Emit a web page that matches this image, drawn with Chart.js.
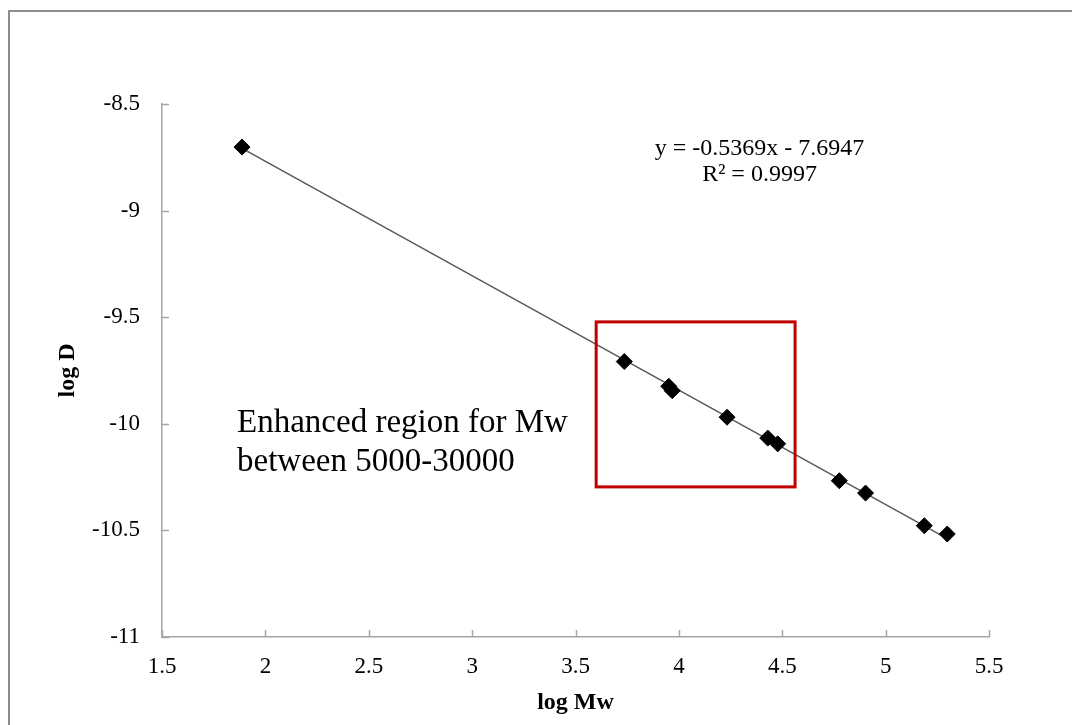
<!DOCTYPE html>
<html>
<head>
<meta charset="utf-8">
<script src="https://cdn.jsdelivr.net/npm/chart.js@4.4.1/dist/chart.umd.min.js"></script>
<style>
    html, body { margin: 0; padding: 0; background: #ffffff; }
    #wrap { width: 1072px; height: 725px; }
</style>
</head>
<body>
<div id="wrap"><canvas id="diffChart" width="1072" height="725"></canvas></div>
<script>
// -------- Data --------
const logMw = [1.887, 3.736, 3.951, 3.968, 4.233, 4.430, 4.478, 4.776, 4.903, 5.187, 5.298];
const logD = [-8.702, -9.708, -9.824, -9.845, -9.969, -10.067, -10.094, -10.267, -10.325, -10.478, -10.517];

// trendline end points (y = -0.5369x - 7.6947)
const trendX = [1.887, 5.298];
const trendY = [-8.708, -10.539];

const xTicks = [1.5, 2, 2.5, 3, 3.5, 4, 4.5, 5, 5.5];
const yTicks = [-8.5, -9, -9.5, -10, -10.5, -11];

const equationLines = ["y = -0.5369x - 7.6947", "R\u00b2 = 0.9997"];
const regionLines = ["Enhanced region for Mw", "between 5000-30000"];

// enhanced region box, in axis units
const regionBox = { xMin: 3.6, xMax: 4.562, yMin: -10.296, yMax: -9.522 };


// -------- Helpers --------
const serif = "'Liberation Serif', 'Times New Roman', serif";
const axisGrey = "#a6a6a6";

const points = logMw.map((x, i) => ({ x: x, y: logD[i] }));
const trend = trendX.map((x, i) => ({ x: x, y: trendY[i] }));


// -------- Plugins --------
const framePlugin = {
    id: "frame",
    beforeDraw(chart) {
        const ctx = chart.ctx;
        ctx.save();
        ctx.fillStyle = "#ffffff";
        ctx.fillRect(0, 0, chart.width, chart.height);
        ctx.strokeStyle = "#8c8c8c";
        ctx.lineWidth = 2;
        ctx.strokeRect(9, 11, chart.width + 20, chart.height + 20);
        ctx.restore();
    }
};

const innerTicksPlugin = {
    id: "innerTicks",
    afterDraw(chart) {
        const ctx = chart.ctx;
        const xs = chart.scales.x;
        const ys = chart.scales.y;
        ctx.save();
        ctx.strokeStyle = axisGrey;
        ctx.lineWidth = 1.5;
        ctx.beginPath();
        xTicks.forEach(v => {
            const px = Math.round(xs.getPixelForValue(v)) + 0.5;
            ctx.moveTo(px, ys.bottom);
            ctx.lineTo(px, ys.bottom - 7);
        });
        yTicks.forEach(v => {
            const py = Math.round(ys.getPixelForValue(v)) + 0.5;
            ctx.moveTo(xs.left, py);
            ctx.lineTo(xs.left + 7, py);
        });
        ctx.stroke();
        ctx.restore();
    }
};

const notesPlugin = {
    id: "notes",
    afterDatasetsDraw(chart) {
        const ctx = chart.ctx;
        const xs = chart.scales.x;
        const ys = chart.scales.y;

        // red box
        const left = xs.getPixelForValue(regionBox.xMin);
        const right = xs.getPixelForValue(regionBox.xMax);
        const top = ys.getPixelForValue(regionBox.yMax);
        const bottom = ys.getPixelForValue(regionBox.yMin);
        ctx.save();
        ctx.strokeStyle = "#c00000";
        ctx.lineWidth = 3;
        ctx.strokeRect(left, top, right - left, bottom - top);

        // region text
        ctx.fillStyle = "#000000";
        ctx.font = "33px " + serif;
        ctx.textAlign = "left";
        ctx.textBaseline = "middle";
        const tx = xs.getPixelForValue(1.863);
        const ty = ys.getPixelForValue(-9.996);
        regionLines.forEach((line, i) => ctx.fillText(line, tx, ty + i * 39));

        // equation
        ctx.font = "24px " + serif;
        ctx.textAlign = "center";
        const ex = xs.getPixelForValue(4.39);
        const ey = ys.getPixelForValue(-8.71);
        equationLines.forEach((line, i) => ctx.fillText(line, ex, ey + i * 26));
        ctx.restore();
    }
};


// -------- Chart --------
new Chart(document.getElementById("diffChart"), {
    type: "scatter",
    data: {
        datasets: [
            {
                label: "trend",
                data: trend,
                showLine: true,
                borderColor: "#595959",
                borderWidth: 1.5,
                pointRadius: 0,
                order: 2
            },
            {
                label: "log D",
                data: points,
                pointStyle: "rectRot",
                pointRadius: 8,
                pointBackgroundColor: "#000000",
                pointBorderColor: "#000000",
                pointBorderWidth: 1,
                order: 1
            }
        ]
    },
    options: {
        responsive: false,
        animation: false,
        devicePixelRatio: 1,
        layout: { padding: { top: 104, right: 83, left: 0, bottom: 0 } },
        plugins: {
            legend: { display: false },
            tooltip: { enabled: false }
        },
        scales: {
            x: {
                type: "linear",
                min: 1.5,
                max: 5.5,
                afterFit(scale) { scale.height = 88; },
                afterBuildTicks(scale) { scale.ticks = xTicks.map(v => ({ value: v })); },
                grid: { drawOnChartArea: false, drawTicks: false },
                border: { color: axisGrey, width: 1.5 },
                ticks: {
                    padding: 16,
                    color: "#000000",
                    font: { family: serif, size: 23 },
                    callback: v => String(v)
                },
                title: {
                    display: true,
                    text: "log Mw",
                    color: "#000000",
                    font: { family: serif, size: 24, weight: "bold" },
                    padding: { bottom: 8, top: 0 }
                }
            },
            y: {
                type: "linear",
                min: -11,
                max: -8.5,
                afterFit(scale) { scale.width = 162; },
                afterBuildTicks(scale) { scale.ticks = yTicks.map(v => ({ value: v })); },
                grid: { drawOnChartArea: false, drawTicks: false },
                border: { color: axisGrey, width: 1.5 },
                ticks: {
                    padding: 22,
                    color: "#000000",
                    font: { family: serif, size: 23 },
                    callback: v => String(v)
                },
                title: {
                    display: true,
                    text: "log D",
                    color: "#000000",
                    font: { family: serif, size: 24, weight: "bold" },
                    padding: { top: 53, bottom: 0 }
                }
            }
        }
    },
    plugins: [framePlugin, innerTicksPlugin, notesPlugin]
});
</script>
</body>
</html>
